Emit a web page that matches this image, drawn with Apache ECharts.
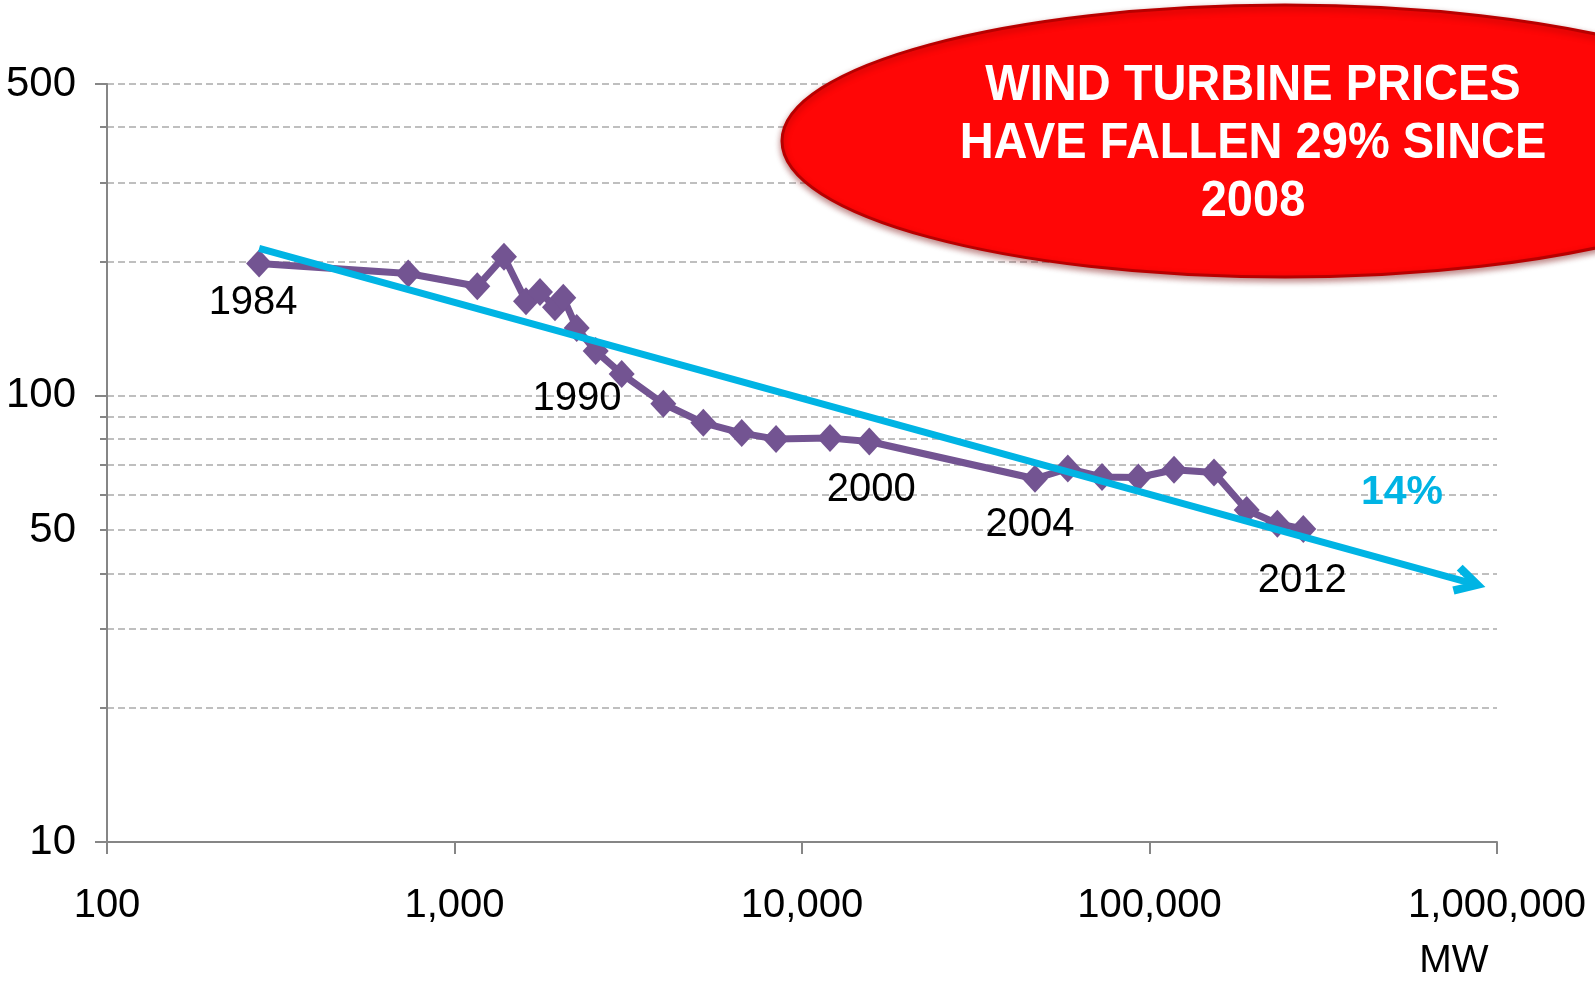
<!DOCTYPE html>
<html>
<head>
<meta charset="utf-8">
<title>Wind turbine prices</title>
<script src="https://cdn.jsdelivr.net/npm/echarts@6.0.0/dist/echarts.min.js"></script>
<style>
    html, body { margin: 0; padding: 0; background: #fff; }
    #chart { width: 1595px; height: 987px; }
</style>
</head>
<body>
<div id="chart"></div>
<script>
    // cumulative installed capacity (MW) and turbine price, one point per year
    var years = [1984, 1985, 1986, 1987, 1988, 1989, 1990, 1991, 1992, 1993, 1994, 1995, 1996, 1997, 1998, 1999, 2000,
        2004, 2005, 2006, 2007, 2008, 2009, 2010, 2011, 2012];
    var capacity = [274, 736, 1163, 1388, 1606, 1762, 1946, 2056, 2247, 2549, 3028, 3990, 5200, 6707, 8420, 12040, 15620,
        46830, 58200, 73010, 92860, 117640, 153330, 190400, 233300, 277100];
    var price = [198, 188, 176, 205, 163, 171, 158, 166, 142, 126, 112, 96, 87, 82.5, 80, 80.4, 79,
        65.2, 68.7, 65.8, 65.6, 68.3, 67.3, 55.5, 51.7, 50.3];

    // learning-rate trend line (start / end)
    var trendStart = [274, 214];
    var trendEnd = [836200, 38.1];

    var yLabelValues = [10, 50, 100, 500];
    var labelledYears = [1984, 1990, 2000, 2004, 2012];

    var FONT = "'Liberation Sans', Arial, sans-serif";
    var PURPLE = '#735492';
    var CYAN = '#00B4E4';
    var AXIS_GREY = '#868686';
    var GRID_GREY = '#BFBFBF';

    // where the year labels sit relative to their point
    var yearLabelOffset = {
        1984: [-6, 39],
        1990: [22, 92],
        2000: [2, 48],
        2004: [-5, 46],
        2012: [-1, 52]
    };

    var seriesData = capacity.map(function (c, i) {
        var item = { value: [c, price[i]] };
        if (labelledYears.indexOf(years[i]) >= 0) {
            item.label = {
                show: true,
                position: 'inside',
                offset: yearLabelOffset[years[i]],
                formatter: String(years[i]),
                color: '#000',
                fontSize: 40,
                fontFamily: FONT,
                textBorderWidth: 0
            };
        }
        return item;
    });

    var gridLine = { color: GRID_GREY, width: 2, type: [7, 4] };

    var myChart = echarts.init(document.getElementById('chart'));
    var chartOption = {
        animation: false,
        backgroundColor: '#fff',
        grid: {
            left: 107,
            right: 98,
            top: 84,
            bottom: 145,
            containLabel: false,
            outerBoundsMode: 'none'
        },
        xAxis: {
            type: 'log',
            logBase: 10,
            min: 100,
            max: 1000000,
            splitNumber: 4,
            axisLine: { show: true, lineStyle: { color: AXIS_GREY, width: 2 } },
            axisTick: { show: true, length: 12, lineStyle: { color: AXIS_GREY, width: 2 } },
            splitLine: { show: false },
            axisLabel: {
                margin: 44,
                fontSize: 40,
                fontFamily: FONT,
                color: '#000',
                formatter: function (v) {
                    return Math.round(v).toLocaleString('en-US');
                }
            }
        },
        yAxis: {
            type: 'log',
            logBase: 10,
            min: 10,
            max: 500,
            axisLine: { show: true, lineStyle: { color: AXIS_GREY, width: 2 } },
            axisTick: { show: true, length: 12, lineStyle: { color: AXIS_GREY, width: 2 } },
            minorTick: { show: true, splitNumber: 9, length: 7, lineStyle: { color: AXIS_GREY, width: 2 } },
            splitLine: { show: true, lineStyle: gridLine },
            minorSplitLine: { show: true, lineStyle: gridLine },
            axisLabel: {
                customValues: yLabelValues,
                margin: 31,
                fontSize: 42,
                fontFamily: FONT,
                color: '#000',
                formatter: function (v) {
                    return String(Math.round(v));
                }
            }
        },
        series: [{
                name: 'trend',
                type: 'line',
                z: 2,
                data: [],
                markLine: {
                    silent: true,
                    // open chevron head, tip pointing along the line
                    symbol: ['none', 'path://M15,0 L30,27 L23,31 L15,16 L7,31 L0,27 Z'],
                    symbolSize: [31, 32],
                    label: { show: false },
                    lineStyle: { color: CYAN, width: 7, type: 'solid' },
                    emphasis: { disabled: true },
                    data: [
                        [{ coord: trendStart }, { coord: trendEnd }]
                    ]
                }
            },
            {
                name: 'price',
                type: 'line',
                z: 3,
                symbol: 'diamond',
                symbolSize: [26, 28],
                showAllSymbol: true,
                lineStyle: { color: PURPLE, width: 7 },
                itemStyle: { color: PURPLE },
                data: seriesData
            }
        ],
        graphic: [{
                type: 'text',
                x: 1454,
                y: 961,
                style: {
                    text: 'MW',
                    font: '39px ' + FONT,
                    fill: '#000',
                    textAlign: 'center',
                    textVerticalAlign: 'middle'
                }
            },
            {
                type: 'text',
                x: 1402,
                y: 493,
                z: 50,
                style: {
                    text: '14%',
                    font: 'bold 41px ' + FONT,
                    fill: CYAN,
                    textAlign: 'center',
                    textVerticalAlign: 'middle'
                }
            },
            {
                type: 'ellipse',
                z: 100,
                shape: { cx: 1285, cy: 141, rx: 503, ry: 136 },
                style: {
                    fill: '#FF0606',
                    stroke: '#B80000',
                    lineWidth: 3,
                    shadowBlur: 6,
                    shadowColor: 'rgba(120,0,0,0.45)',
                    shadowOffsetY: 3
                }
            },
            {
                type: 'text',
                z: 101,
                x: 1253,
                y: 144,
                scaleY: 1.08,
                style: {
                    text: 'WIND TURBINE PRICES\nHAVE FALLEN 29% SINCE\n2008',
                    font: 'bold 47px ' + FONT,
                    lineHeight: 54,
                    fill: '#fff',
                    textAlign: 'center',
                    textVerticalAlign: 'middle'
                }
            }
        ]
    };

    myChart.setOption(chartOption);
</script>
</body>
</html>
